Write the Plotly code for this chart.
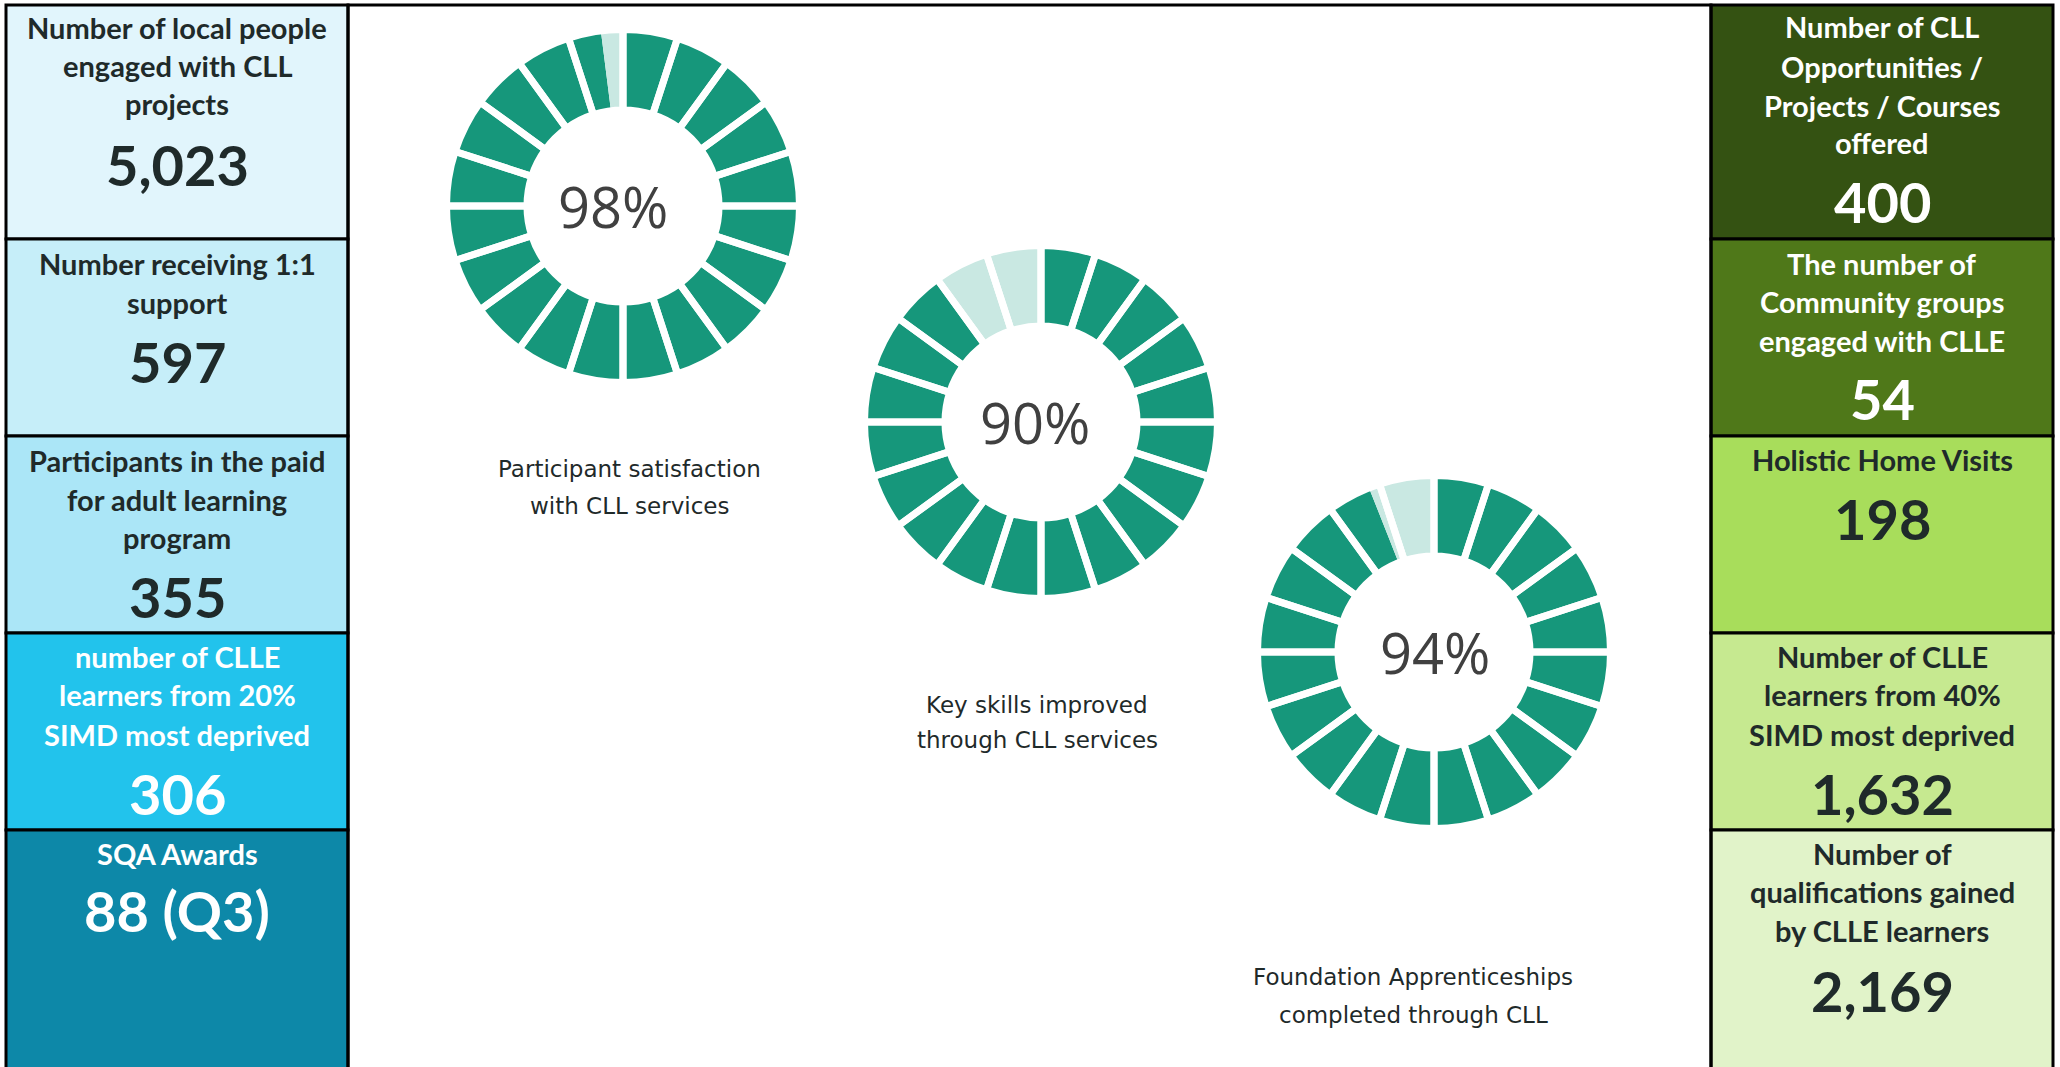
import plotly.graph_objects as go

# KPI cards, left column then right column
left_titles = [
    ["Number of local people", "engaged with CLL", "projects"],
    ["Number receiving 1:1", "support"],
    ["Participants in the paid", "for adult learning", "program"],
    ["number of CLLE", "learners from 20%", "SIMD most deprived"],
    ["SQA Awards"],
]
left_values = ["5,023", "597", "355", "306", "88 (Q3)"]

right_titles = [
    ["Number of CLL", "Opportunities /", "Projects / Courses", "offered"],
    ["The number of", "Community groups", "engaged with CLLE"],
    ["Holistic Home Visits"],
    ["Number of CLLE", "learners from 40%", "SIMD most deprived"],
    ["Number of", "qualifications gained", "by CLLE learners"],
]
right_values = ["400", "54", "198", "1,632", "2,169"]

# donut gauges
gauge_pct = [98, 90, 94]
gauge_labels = [
    ["Participant satisfaction", "with CLL services"],
    ["Key skills improved", "through CLL services"],
    ["Foundation Apprenticeships", "completed through CLL"],
]
n_segments = 20

# ---- layout / style (pixels) ----
W, H = 2060, 1067
row_edges = [5, 239, 436, 633, 830, 1072]
left_x = (6, 348)
right_x = (1711, 2053)
left_fill = ["#E1F5FC", "#C6EEF9", "#ABE6F7", "#22C3EC", "#0D88A8"]
right_fill = ["#345212", "#4F7819", "#A8DD5B", "#C6E990", "#E1F3C9"]
dark_txt = "#1F2A2A"
left_txt = [dark_txt, dark_txt, dark_txt, "white", "white"]
right_txt = ["white", "white", dark_txt, dark_txt, dark_txt]

left_line_y = [[27, 65, 103], [263, 302], [460, 499, 537], [656, 694, 734], [853]]
left_num_y = [164, 361, 596, 793, 910]
right_line_y = [[26, 66, 105, 142], [263, 301, 340], [459], [656, 694, 734], [853, 891, 930]]
right_num_y = [201, 398, 518, 793, 990]
title_size = 29
num_size = 56

gauge_centers = [(623, 206), (1041, 422), (1434, 652)]
pct_x = [613, 1035, 1435]
gauge_label_x = [629, 1037, 1413]
gauge_label_y = [[469, 506], [705, 740], [977, 1015]]
R_out = 176.5
hole = 0.544
teal = "#16977B"
teal_light = "#C9E8E2"

fig = go.Figure()

for (cx, cy), pct in zip(gauge_centers, gauge_pct):
    dom = dict(x=[(cx - R_out) / W, (cx + R_out) / W],
               y=[1 - (cy + R_out) / H, 1 - (cy - R_out) / H])
    fig.add_trace(go.Pie(
        values=[pct, 100 - pct], marker=dict(colors=[teal, teal_light], line=dict(width=0)),
        hole=hole, sort=False, direction='clockwise', rotation=0,
        textinfo='none', hoverinfo='skip', showlegend=False, domain=dom,
    ))
    # white separators between the segments
    fig.add_trace(go.Pie(
        values=[1] * n_segments,
        marker=dict(colors=['rgba(0,0,0,0)'] * n_segments, line=dict(color='white', width=7)),
        hole=hole, sort=False, direction='clockwise', rotation=0,
        textinfo='none', hoverinfo='skip', showlegend=False, domain=dom,
    ))

shapes = []
annotations = []


def add_column(xr, fills, titles, values, line_y, num_y, txt_col):
    cx = (xr[0] + xr[1]) / 2
    for i in range(5):
        shapes.append(dict(type='rect', xref='x', yref='y', x0=xr[0], x1=xr[1],
                           y0=row_edges[i], y1=row_edges[i + 1], fillcolor=fills[i],
                           line=dict(color='black', width=3), layer='below'))
        for txt, y in zip(titles[i], line_y[i]):
            annotations.append(dict(x=cx, y=y, xref='x', yref='y', text=txt, showarrow=False,
                                    xanchor='center', yanchor='middle',
                                    font=dict(family='Lato', size=title_size, color=txt_col[i],
                                              weight='bold')))
        annotations.append(dict(x=cx, y=num_y[i], xref='x', yref='y', text=values[i], showarrow=False,
                                xanchor='center', yanchor='middle',
                                font=dict(family='Lato', size=num_size, color=txt_col[i],
                                          weight='bold')))


add_column(left_x, left_fill, left_titles, left_values, left_line_y, left_num_y, left_txt)
add_column(right_x, right_fill, right_titles, right_values, right_line_y, right_num_y, right_txt)

# frame of the middle area
shapes.append(dict(type='rect', xref='x', yref='y', x0=left_x[1], x1=right_x[0], y0=5, y1=1072,
                   line=dict(color='black', width=3), fillcolor='rgba(0,0,0,0)'))

for (cx, cy), px, pct in zip(gauge_centers, pct_x, gauge_pct):
    annotations.append(dict(x=px, y=cy, xref='x', yref='y', text=f"{pct}%", showarrow=False,
                            xanchor='center', yanchor='middle',
                            font=dict(family='Open Sans', size=56, color='#404040')))

for lx, ys, lines in zip(gauge_label_x, gauge_label_y, gauge_labels):
    for y, txt in zip(ys, lines):
        annotations.append(dict(x=lx, y=y, xref='x', yref='y', text=txt, showarrow=False,
                                xanchor='center', yanchor='middle',
                                font=dict(family='DejaVu Sans', size=23, color=dark_txt)))

fig.update_layout(
    width=W, height=H,
    margin=dict(l=0, r=0, t=0, b=0),
    paper_bgcolor='white', plot_bgcolor='rgba(0,0,0,0)',
    xaxis=dict(range=[0, W], visible=False, fixedrange=True),
    yaxis=dict(range=[H, 0], visible=False, fixedrange=True),
    shapes=shapes, annotations=annotations,
)

# page body margin would push the figure off by 8px
fig.write_html("out.html", config={'displayModeBar': False},
               post_script="document.body.style.margin='0px';")
